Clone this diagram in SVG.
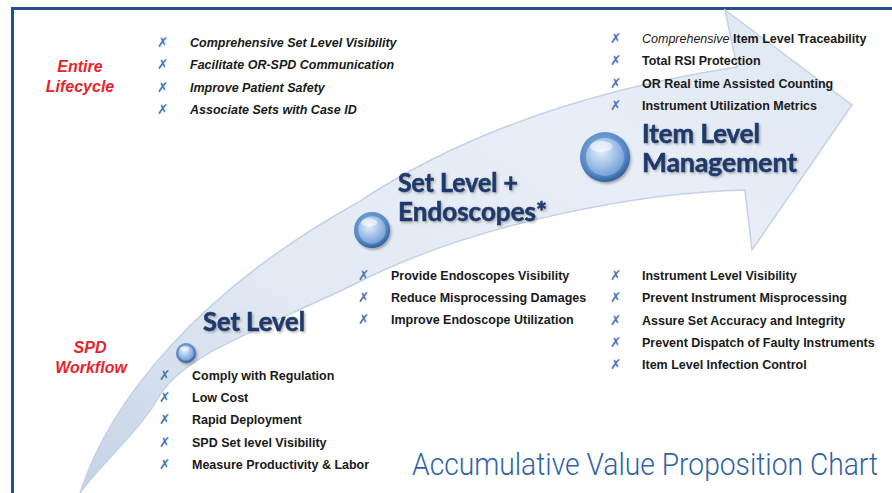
<svg xmlns="http://www.w3.org/2000/svg" width="892" height="493" viewBox="0 0 892 493">
<defs>
<linearGradient id="band" x1="0" y1="1" x2="1" y2="0">
<stop offset="0" stop-color="#c6d3e5"/>
<stop offset="0.35" stop-color="#e3eaf4"/>
<stop offset="0.7" stop-color="#e8eef7"/>
<stop offset="1" stop-color="#dde7f3"/>
</linearGradient>
<radialGradient id="ring" cx="0.45" cy="0.4" r="0.6">
<stop offset="0" stop-color="#8fb6e2"/>
<stop offset="0.75" stop-color="#5a8ac6"/>
<stop offset="1" stop-color="#2f5f9f"/>
</radialGradient>
<radialGradient id="core" cx="0.4" cy="0.35" r="0.7">
<stop offset="0" stop-color="#e4eefa"/>
<stop offset="0.5" stop-color="#a9c7ea"/>
<stop offset="1" stop-color="#6d9bd3"/>
</radialGradient>
<filter id="sh" x="-20%" y="-20%" width="140%" height="160%">
<feDropShadow dx="1.5" dy="2" stdDeviation="1.2" flood-color="#555" flood-opacity="0.45"/>
</filter>
<filter id="tsh" x="-5%" y="-20%" width="110%" height="150%">
<feDropShadow dx="1.5" dy="1.5" stdDeviation="0.8" flood-color="#777" flood-opacity="0.55"/>
</filter>
<g id="sphere">
<circle r="1" fill="url(#ring)"/>
<circle r="0.76" fill="url(#core)"/>
<ellipse cx="-0.15" cy="-0.42" rx="0.45" ry="0.22" fill="#ffffff" opacity="0.55"/>
</g>
</defs>
<style>
.li{font-family:"Liberation Sans",Arial,sans-serif;font-weight:bold;font-size:12.5px;fill:#1a1a1a}
.it{font-style:italic}
.ck{font-family:"DejaVu Sans",sans-serif;font-size:13.5px;fill:#4576b8;font-style:italic}
.red{font-family:"Liberation Sans",Arial,sans-serif;font-weight:bold;font-style:italic;font-size:16px;fill:#e8232b}
.hd{font-family:Lato,"Open Sans",sans-serif;font-weight:bold;font-size:26px;fill:#1f3a6d;stroke:#1f3a6d;stroke-width:0.6}
.ttl{font-family:Roboto,"Open Sans",sans-serif;font-weight:300;font-size:32px;fill:#2e63a6}
</style>
<rect width="892" height="493" fill="#ffffff"/>
<path d="M12.5,493 V8.5 H892" fill="none" stroke="#1f5090" stroke-width="3"/>

<g id="connectors">
<path d="M80,493 C110,400 200,290 357,203 C470,128 600,88 737,67 L725,10 L852,105 L752,250 L745,190 C650,192 480,220 357,283 C260,330 180,355 157,400 C140,430 100,465 80,493 Z" fill="url(#band)" stroke="#c3d2e6" stroke-width="1.5"/>
</g>

<g id="sphere-set" filter="url(#sh)"><use href="#sphere" transform="translate(186,353) scale(10)"/></g>
<g id="sphere-endo" filter="url(#sh)"><use href="#sphere" transform="translate(372,230) scale(18)"/></g>
<g id="sphere-item" filter="url(#sh)"><use href="#sphere" transform="translate(605,157) scale(25)"/></g>

<g id="label-entire">
<text class="red" x="80" y="72" text-anchor="middle">Entire</text>
<text class="red" x="80" y="92" text-anchor="middle">Lifecycle</text>
</g>
<g id="label-spd">
<text class="red" x="90" y="353" text-anchor="middle">SPD</text>
<text class="red" x="91" y="373" text-anchor="middle">Workflow</text>
</g>

<g id="list-lifecycle">
<text class="ck" x="157" y="47">✗</text><text class="li it" x="190" y="47">Comprehensive Set Level Visibility</text>
<text class="ck" x="157" y="69">✗</text><text class="li it" x="190" y="69">Facilitate OR-SPD Communication</text>
<text class="ck" x="157" y="92">✗</text><text class="li it" x="190" y="92">Improve Patient Safety</text>
<text class="ck" x="157" y="114">✗</text><text class="li it" x="190" y="114">Associate Sets with Case ID</text>
</g>

<g id="list-item-top">
<text class="ck" x="610" y="43">✗</text><text class="li" x="642" y="43"><tspan class="it" font-weight="normal">Comprehensive</tspan> Item Level Traceability</text>
<text class="ck" x="610" y="65">✗</text><text class="li" x="642" y="65">Total RSI Protection</text>
<text class="ck" x="610" y="88">✗</text><text class="li" x="642" y="88">OR Real time Assisted Counting</text>
<text class="ck" x="610" y="110">✗</text><text class="li" x="642" y="110">Instrument Utilization Metrics</text>
</g>

<g id="node-item" filter="url(#tsh)">
<text class="hd" x="642" y="143" textLength="118" lengthAdjust="spacingAndGlyphs">Item Level</text>
<text class="hd" x="642" y="172" textLength="155" lengthAdjust="spacingAndGlyphs">Management</text>
</g>

<g id="node-endo" filter="url(#tsh)">
<text class="hd" x="398" y="192" textLength="120" lengthAdjust="spacingAndGlyphs">Set Level +</text>
<text class="hd" x="398" y="221" textLength="149" lengthAdjust="spacingAndGlyphs">Endoscopes*</text>
</g>

<g id="node-set" filter="url(#tsh)">
<text class="hd" x="203" y="331" textLength="102" lengthAdjust="spacingAndGlyphs">Set Level</text>
</g>

<g id="list-endo">
<text class="ck" x="358" y="280">✗</text><text class="li" x="391" y="280">Provide Endoscopes Visibility</text>
<text class="ck" x="358" y="302">✗</text><text class="li" x="391" y="302">Reduce Misprocessing Damages</text>
<text class="ck" x="358" y="324">✗</text><text class="li" x="391" y="324">Improve Endoscope Utilization</text>
</g>

<g id="list-item-bottom">
<text class="ck" x="610" y="280">✗</text><text class="li" x="642" y="280">Instrument Level Visibility</text>
<text class="ck" x="610" y="302">✗</text><text class="li" x="642" y="302">Prevent Instrument Misprocessing</text>
<text class="ck" x="610" y="325">✗</text><text class="li" x="642" y="325">Assure Set Accuracy and Integrity</text>
<text class="ck" x="610" y="347">✗</text><text class="li" x="642" y="347">Prevent Dispatch of Faulty Instruments</text>
<text class="ck" x="610" y="369">✗</text><text class="li" x="642" y="369">Item Level Infection Control</text>
</g>

<g id="list-set">
<text class="ck" x="159" y="380">✗</text><text class="li" x="192" y="380">Comply with Regulation</text>
<text class="ck" x="159" y="402">✗</text><text class="li" x="192" y="402">Low Cost</text>
<text class="ck" x="159" y="424">✗</text><text class="li" x="192" y="424">Rapid Deployment</text>
<text class="ck" x="159" y="447">✗</text><text class="li" x="192" y="447">SPD Set level Visibility</text>
<text class="ck" x="159" y="469">✗</text><text class="li" x="192" y="469">Measure Productivity &amp; Labor</text>
</g>

<g id="title">
<text class="ttl" x="0" y="0" transform="translate(412,475) scale(0.86,1)" textLength="542" lengthAdjust="spacingAndGlyphs">Accumulative Value Proposition Chart</text>
</g>
</svg>
